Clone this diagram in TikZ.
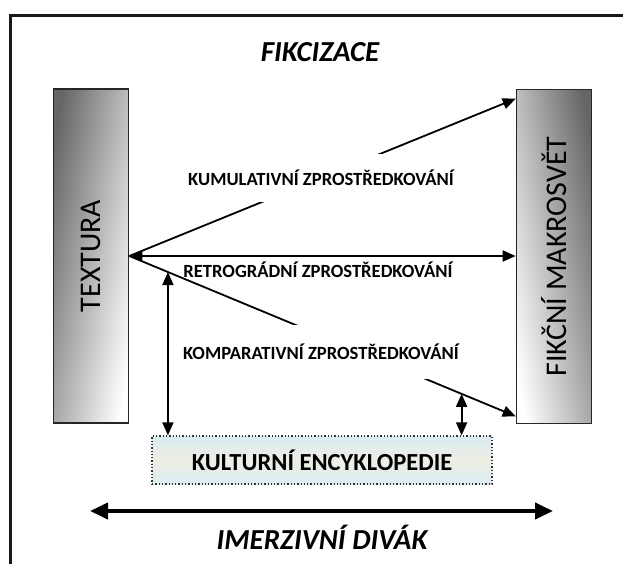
\documentclass[tikz,border=0pt]{standalone}
\usepackage{fontspec}
\setmainfont{Carlito}
\usetikzlibrary{arrows.meta,calc}

\definecolor{encblue}{RGB}{218,236,242}
\definecolor{enccream}{RGB}{240,238,228}

\tikzset{
  sidebox/.style={draw=black!85, line width=1.6pt, minimum width=75pt,
    minimum height=334pt, inner sep=0pt},
  sidetext/.style={font=\fontsize{30}{32}\selectfont, rotate=90},
  conn/.style={line width=1.8pt, -{Triangle[length=13pt,width=11pt]}},
  dconn/.style={line width=1.8pt, {Triangle[length=13pt,width=11pt]}-{Triangle[length=13pt,width=11pt]}},
  medlabel/.style={font=\bfseries\fontsize{18.6}{20}\selectfont, fill=white,
    inner xsep=2pt},
  heading/.style={font=\bfseries\itshape\fontsize{29}{32}\selectfont}
}

\begin{document}
\begin{tikzpicture}[x=1pt,y=-1pt]
\useasboundingbox (0,0) rectangle (623,563);
\clip (0,0) rectangle (623,563);

% outer frame
\draw[line width=3pt, black!90] (10,15) rectangle (700,640);

% title
\node[heading] (fik) at (320,52) {FIKCIZACE};

% the two side boxes
\node[sidebox, left color=black!60, right color=white, shading angle=80] (tex) at (91,256) {};
\node[sidetext] (texlab) at (tex.center) {TEXTURA};
\node[sidebox, left color=white, right color=black!60, shading angle=100] (mak) at (554,256.5) {};
\node[sidetext] (maklab) at (mak.center) {FIKČNÍ MAKROSVĚT};

% connector end points
\coordinate (src) at (tex.east);
\coordinate (top) at ($(mak.north west)+(0,10)$);
\coordinate (mid) at (mak.west |- src);
\coordinate (bot) at ($(mak.south west)+(0,-8)$);

% mediations
\draw[conn] (src) -- (top);
\draw[dconn] (src) -- (mid);
\draw[conn] (src) -- (bot);

\node[medlabel, minimum height=48pt] (kum) at (321,178) {KUMULATIVNÍ ZPROSTŘEDKOVÁNÍ};
\node[medlabel, fill=none] (ret) at (318,270) {RETROGRÁDNÍ ZPROSTŘEDKOVÁNÍ};
\node[medlabel, minimum height=54pt] (kom) at (321,352) {KOMPARATIVNÍ ZPROSTŘEDKOVÁNÍ};

% cultural encyclopedia
\node[draw=black!80, dotted, line width=1.3pt, minimum width=340pt, minimum height=48pt,
  top color=encblue, bottom color=encblue, middle color=enccream,
  font=\bfseries\fontsize{24.5}{26}\selectfont] (enc) at (322,460) {KULTURNÍ ENCYKLOPEDIE};

\coordinate (la) at ($(src)!0.1!(bot)$);
\coordinate (ra) at ($(src)!0.86!(bot)$);
\draw[dconn] (la) -- (la |- enc.north);
\draw[dconn] (ra) -- (ra |- enc.north);

% immersive viewer
\coordinate (vl) at (90,511);
\coordinate (vr) at (553,511);
\draw[line width=4pt, {Triangle[length=18pt,width=16pt]}-{Triangle[length=18pt,width=16pt]}] (vl) -- (vr);
\node[heading] (imm) at (322,537) {IMERZIVNÍ DIVÁK};
\end{tikzpicture}
\end{document}
